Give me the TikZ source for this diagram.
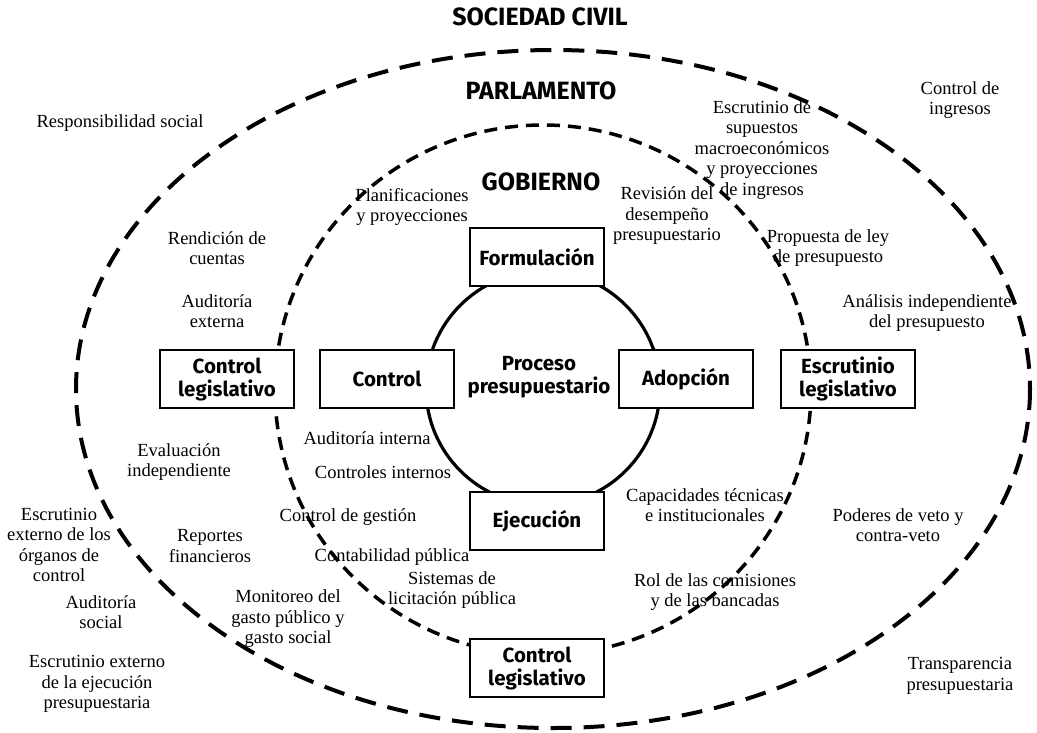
\documentclass[tikz,border=0pt]{standalone}
\usepackage{fontspec}
\usepackage{tikz}
\setmainfont{Liberation Serif}
\newfontfamily\headfont{Fira Sans}

\tikzset{
  lbl/.style={font=\fontsize{18.5}{20.5}\selectfont, align=center, inner sep=0pt},
  stage/.style={draw, line width=2.5pt, fill=white, minimum width=134pt, minimum height=58pt,
    align=center, inner sep=0pt, font=\headfont\bfseries\fontsize{20.5}{23}\selectfont},
  level/.style={font=\headfont\bfseries\fontsize{25}{28}\selectfont, inner sep=0pt},
  outerring/.style={line width=4pt, dash pattern=on 21pt off 12pt},
  innerring/.style={line width=3.5pt, dash pattern=on 13pt off 8pt}
}

\begin{document}
\begin{tikzpicture}[x=1pt, y=-1pt]
\useasboundingbox (0,0) rectangle (1037,732);

\draw [outerring] (553,389) ellipse (477 and 339);
\draw [innerring] (543,390) ellipse (268 and 265);
\draw [line width=3.2pt] (543,388) circle (117);

\node [level] (civil) at (540,17) {SOCIEDAD CIVIL};
\node [level] (parl) at (541,91) {PARLAMENTO};
\node [level] (gob) at (541,182) {GOBIERNO};

\node [stage] (form) at (537,257) {Formulación};
\node [stage] (ctrl) at (387,379) {Control};
\node [stage] (adop) at (686,379) {Adopción};
\node [stage] (ejec) at (537,521) {Ejecución};
\node [stage] (ctrlleg) at (227,379) {Control\\legislativo};
\node [stage] (escleg) at (848,379) {Escrutinio\\legislativo};
\node [stage] (ctrllegb) at (537,668) {Control\\legislativo};
\node [font=\headfont\bfseries\fontsize{20.5}{23}\selectfont, align=center] (proc) at (539,377) {Proceso\\presupuestario};

\node [lbl] (respsoc) at (120,123) {Responsibilidad social};
\node [lbl] (ctrling) at (960,100) {Control de\\ingresos};
\node [lbl] (supuestos) at (762,150) {Escrutinio de\\supuestos\\macroeconómicos\\y proyecciones\\de ingresos};
\node [lbl] (planif) at (412,207) {Planificaciones\\y proyecciones};
\node [lbl] (revision) at (667,216) {Revisión del\\desempeño\\presupuestario};
\node [lbl] (rendicion) at (217,248) {Rendición de\\cuentas};
\node [lbl] (propuesta) at (828,248) {Propuesta de ley\\de presupuesto};
\node [lbl] (audext) at (217,311) {Auditoría\\externa};
\node [lbl] (analisis) at (927,313) {Análisis independiente\\del presupuesto};
\node [lbl] (audint) at (367,438) {Auditoría interna};
\node [lbl] (evaluacion) at (179,462) {Evaluación\\independiente};
\node [lbl] (ctrlint) at (383,472) {Controles internos};
\node [lbl] (capac) at (705,505) {Capacidades técnicas\\e institucionales};
\node [lbl] (veto) at (898,525) {Poderes de veto y\\contra-veto};
\node [lbl] (gestion) at (348,517) {Control de gestión};
\node [lbl] (organos) at (59,545) {Escrutinio\\externo de los\\órganos de\\control};
\node [lbl] (reportes) at (210,546) {Reportes\\financieros};
\node [lbl] (contab) at (392,557) {Contabilidad pública};
\node [lbl] (licit) at (452,590) {Sistemas de\\licitación pública};
\node [lbl] (comisiones) at (715,592) {Rol de las comisiones\\y de las bancadas};
\node [lbl] (audsoc) at (101,612) {Auditoría\\social};
\node [lbl] (monitoreo) at (288,619) {Monitoreo del\\gasto público y\\gasto social};
\node [lbl] (ejecpres) at (97,684) {Escrutinio externo\\de la ejecución\\presupuestaria};
\node [lbl] (transp) at (960,676) {Transparencia\\presupuestaria};
\end{tikzpicture}
\end{document}
